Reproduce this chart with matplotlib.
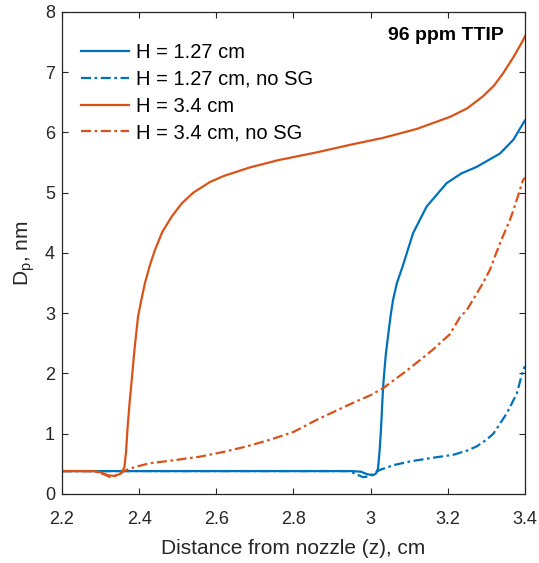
import matplotlib
matplotlib.use("Agg")
import matplotlib.pyplot as plt

plt.rcParams['font.family'] = ['Liberation Sans', 'DejaVu Sans']

# H = 1.27 cm
z_b = [2.20, 2.95, 2.975, 2.99, 3.006, 3.014, 3.019, 3.023, 3.027, 3.030, 3.033, 3.039,
       3.046, 3.052, 3.058, 3.068, 3.084, 3.11, 3.145, 3.197, 3.235, 3.275, 3.335,
       3.37, 3.395, 3.40]
d_b = [0.38, 0.38, 0.37, 0.33, 0.31, 0.34, 0.42, 0.70, 1.10, 1.50, 1.84, 2.30,
       2.67, 2.97, 3.22, 3.50, 3.80, 4.33, 4.77, 5.16, 5.32, 5.43, 5.65,
       5.88, 6.15, 6.20]

# H = 1.27 cm, no SG
z_bn = [2.20, 2.945, 2.965, 2.98, 2.995, 3.01, 3.024, 3.06, 3.102, 3.16, 3.214, 3.25,
        3.275, 3.30, 3.318, 3.353, 3.379, 3.395, 3.40]
d_bn = [0.38, 0.38, 0.32, 0.28, 0.29, 0.35, 0.40, 0.48, 0.54, 0.60, 0.65, 0.72,
        0.79, 0.90, 1.00, 1.34, 1.67, 2.06, 2.12]

# H = 3.4 cm
z_o = [2.20, 2.28, 2.30, 2.32, 2.335, 2.35, 2.356, 2.362, 2.366, 2.370, 2.375, 2.380,
       2.388, 2.397, 2.405, 2.415, 2.428, 2.441, 2.46, 2.484, 2.51, 2.54, 2.584, 2.62,
       2.687, 2.76, 2.86, 2.95, 3.032, 3.12, 3.206, 3.25, 3.291, 3.32, 3.343, 3.37,
       3.395, 3.40]
d_o = [0.38, 0.38, 0.36, 0.31, 0.30, 0.33, 0.37, 0.45, 0.70, 1.10, 1.50, 1.84,
       2.40, 2.94, 3.20, 3.50, 3.80, 4.05, 4.35, 4.60, 4.82, 5.00, 5.18, 5.28,
       5.42, 5.54, 5.67, 5.80, 5.91, 6.06, 6.26, 6.40, 6.60, 6.78, 6.98, 7.25,
       7.53, 7.60]

# H = 3.4 cm, no SG
z_on = [2.20, 2.28, 2.30, 2.325, 2.345, 2.36, 2.39, 2.428, 2.49, 2.558, 2.62, 2.679,
        2.739, 2.80, 2.86, 2.95, 3.0, 3.033, 3.09, 3.145, 3.162, 3.205, 3.232, 3.249,
        3.291, 3.309, 3.335, 3.361, 3.37, 3.395, 3.40]
d_on = [0.38, 0.38, 0.35, 0.28, 0.31, 0.38, 0.45, 0.51, 0.56, 0.62, 0.70, 0.79,
        0.90, 1.03, 1.23, 1.50, 1.64, 1.76, 2.03, 2.31, 2.40, 2.65, 2.94, 3.05,
        3.50, 3.72, 4.16, 4.55, 4.71, 5.21, 5.25]

labels = ['H = 1.27 cm', 'H = 1.27 cm, no SG', 'H = 3.4 cm', 'H = 3.4 cm, no SG']
xticks = [2.2, 2.4, 2.6, 2.8, 3.0, 3.2, 3.4]
xticklabels = ['2.2', '2.4', '2.6', '2.8', '3', '3.2', '3.4']
yticks = [0, 1, 2, 3, 4, 5, 6, 7, 8]

blue = '#0072BD'
orange = '#D95319'
dashdot = (0, (4.5, 1.6, 1.2, 1.6))

fig = plt.figure(figsize=(5.39, 5.63), dpi=100)
ax = fig.add_axes([0.115, 0.1226, 0.859, 0.8561])

lw = 1.6
ax.plot(z_b, d_b, color=blue, lw=lw, label=labels[0])
ax.plot(z_bn, d_bn, color=blue, lw=lw, linestyle=dashdot, label=labels[1])
ax.plot(z_o, d_o, color=orange, lw=lw, label=labels[2])
ax.plot(z_on, d_on, color=orange, lw=lw, linestyle=dashdot, label=labels[3])

ax.set_xlim(2.2, 3.4)
ax.set_ylim(0, 8)
ax.set_xticks(xticks)
ax.set_xticklabels(xticklabels)
ax.set_yticks(yticks)

ax.tick_params(direction='in', top=True, right=True, labelsize=13,
               colors='#262626', length=4.5, width=0.8)
ax.tick_params(axis='x', pad=12)
ax.tick_params(axis='y', pad=5)
for s in ax.spines.values():
    s.set_color('#262626')
    s.set_linewidth(0.9)

ax.set_xlabel('Distance from nozzle (z), cm', fontsize=15, color='#262626', labelpad=8)
ax.set_ylabel(r'D$_\mathregular{p}$, nm', fontsize=15, color='#262626', labelpad=6)

ax.text(3.194, 7.61, '96 ppm TTIP', fontsize=14, fontweight='bold',
        ha='center', va='center', color='black')

leg = ax.legend(loc='upper left', bbox_to_anchor=(0.04, 0.935), frameon=False,
                fontsize=14.5, handlelength=2.4, labelspacing=0.38, handletextpad=0.35,
                borderaxespad=0.0, borderpad=0.0)

fig.savefig('out.png', dpi=100)
